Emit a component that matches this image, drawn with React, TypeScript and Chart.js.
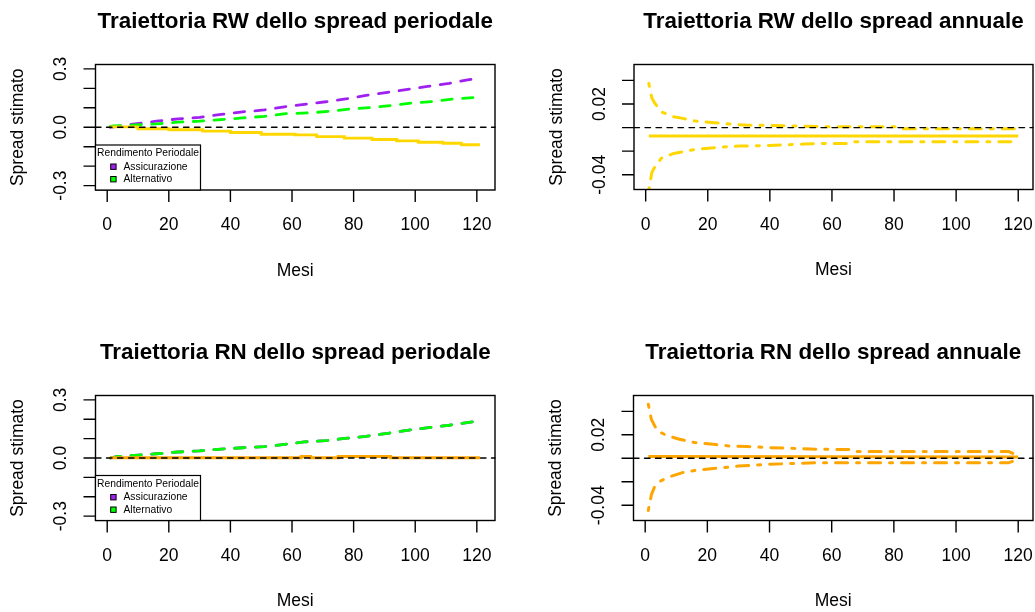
import { useEffect, useRef } from "react";
import { Chart, registerables } from "chart.js";

Chart.register(...registerables);

const FONT = '"Liberation Sans", Arial, Helvetica, sans-serif';
const W = 1035;
const H = 612;

// Colours (R palette names)
const PURPLE = "#A020F0";
const GREEN = "#00FF00";
const GOLD = "#FFD700";
const ORANGE = "#FFA500";

// Axis ticks
const xTicks = [0, 20, 40, 60, 80, 100, 120];
const yTicksPeriodale = [-0.3, -0.2, -0.1, 0, 0.1, 0.2, 0.3];
const yLabelsPeriodale: Record<string, string> = { "-0.3": "-0.3", "0": "0.0", "0.3": "0.3" };
const yTicksAnnuale = [-0.04, -0.02, 0, 0.02, 0.04];
const yLabelsAnnuale: Record<string, string> = { "-0.04": "-0.04", "0.02": "0.02" };

// --- RW, spread periodale
const rwAssicMesi = [1, 9, 16, 23, 30, 37, 44, 51, 57, 64, 71, 78, 84, 91, 97, 104, 111, 117, 120];
const rwAssicVal = [0.0, 0.017, 0.031, 0.043, 0.051, 0.066, 0.079, 0.089, 0.104, 0.118, 0.131, 0.147, 0.164, 0.179, 0.193, 0.21, 0.225, 0.244, 0.25];
const rwAltMesi = [1, 2, 9, 16, 23, 30, 37, 44, 51, 58, 66, 72, 79, 86, 92, 99, 106, 112, 119, 120];
const rwAltVal = [0.003, 0.007, 0.012, 0.017, 0.026, 0.031, 0.039, 0.048, 0.056, 0.07, 0.074, 0.082, 0.094, 0.102, 0.111, 0.125, 0.133, 0.145, 0.153, 0.155];
const rwSpreadMesi = [1, 10, 20, 31, 40, 50, 61, 68, 77, 86, 94, 101, 109, 115, 121];
const rwSpreadVal = [0.002, -0.008, -0.013, -0.02, -0.027, -0.036, -0.039, -0.048, -0.056, -0.063, -0.07, -0.077, -0.082, -0.09, -0.09];

// --- RN, spread periodale
const rnAssicMesi = [1, 3, 10, 16, 23, 30, 37, 44, 51, 57, 64, 71, 78, 84, 91, 98, 105, 111, 118, 120];
const rnAssicVal = [0.0, 0.007, 0.015, 0.022, 0.031, 0.037, 0.046, 0.053, 0.059, 0.069, 0.083, 0.09, 0.102, 0.112, 0.127, 0.144, 0.158, 0.169, 0.185, 0.19];
const rnAltMesi = [1, 3, 10, 16, 23, 30, 37, 44, 51, 57, 64, 71, 78, 84, 91, 98, 105, 111, 118, 120];
const rnAltVal = [0.0, 0.007, 0.015, 0.022, 0.031, 0.037, 0.046, 0.053, 0.059, 0.069, 0.083, 0.09, 0.102, 0.112, 0.127, 0.144, 0.158, 0.169, 0.185, 0.19];
const rnSpreadMesi = [1, 63, 66, 75, 92, 121];
const rnSpreadVal = [0.001, 0.008, 0.001, 0.008, 0.001, 0.001];

// --- RW, spread annuale (stima e bande)
const rwAnnMesi = [1, 120];
const rwAnnVal = [-0.0072, -0.0072];
const rwAnnSupMesi = [1, 2, 3, 5, 9, 12, 16, 22, 27, 32, 40, 49, 58, 70, 81, 82, 100, 120];
const rwAnnSupVal = [0.0375, 0.025, 0.0205, 0.0134, 0.0092, 0.0078, 0.0055, 0.0041, 0.003, 0.0021, 0.0019, 0.0013, 0.0007, 0.0007, 0.0007, -0.001, -0.001, -0.001];
const rwAnnInfMesi = [1, 2, 3, 5, 9, 16, 23, 30, 40, 51, 58, 65, 66, 120];
const rwAnnInfVal = [-0.0535, -0.038, -0.0332, -0.0261, -0.0219, -0.0185, -0.0168, -0.0157, -0.0151, -0.014, -0.0134, -0.0134, -0.012, -0.012];

// --- RN, spread annuale (stima e bande)
const rnAnnMesi = [1, 120];
const rnAnnVal = [0.0015, 0.0012];
const rnAnnSupMesi = [1, 2, 3, 4, 7, 11, 16, 22, 27, 33, 40, 49, 55, 67, 68, 117, 120];
const rnAnnSupVal = [0.046, 0.033, 0.028, 0.0232, 0.0194, 0.0162, 0.0134, 0.0119, 0.0105, 0.01, 0.0091, 0.0083, 0.0077, 0.0075, 0.0057, 0.0057, 0.002];
const rnAnnInfMesi = [1, 2, 3, 5, 8, 12, 17, 23, 30, 40, 49, 57, 117, 120];
const rnAnnInfVal = [-0.0445, -0.031, -0.0245, -0.0193, -0.0156, -0.0122, -0.01, -0.0085, -0.0066, -0.0051, -0.0043, -0.0037, -0.0037, -0.001];

const pts = (xs: number[], ys: number[]) => xs.map((x, i) => ({ x, y: ys[i] }));

type Box = { l: number; t: number; r: number; b: number };

const TICK = 12;
const AXIS_PX = 17.5;

const rFrame = {
  id: "rFrame",
  afterDatasetsDraw(chart: any, _args: any, opts: any) {
    const { ctx, chartArea: a } = chart;
    const xs = chart.scales.x;
    const ys = chart.scales.y;
    ctx.save();

    // abline(h = 0, lty = 2)
    const y0 = ys.getPixelForValue(0);
    ctx.beginPath();
    ctx.setLineDash([5.5, 5.5]);
    ctx.lineCap = "round";
    ctx.lineWidth = 1.4;
    ctx.strokeStyle = "#000";
    ctx.moveTo(a.left, y0);
    ctx.lineTo(a.right, y0);
    ctx.stroke();
    ctx.setLineDash([]);
    ctx.lineCap = "butt";

    // plot box
    ctx.lineWidth = 1.4;
    ctx.strokeRect(a.left, a.top, a.right - a.left, a.bottom - a.top);

    // x axis ticks and labels
    ctx.beginPath();
    opts.xTicks.forEach((v: number) => {
      const px = xs.getPixelForValue(v);
      ctx.moveTo(px, a.bottom);
      ctx.lineTo(px, a.bottom + TICK);
    });
    ctx.stroke();
    ctx.fillStyle = "#000";
    ctx.font = `${AXIS_PX}px ${FONT}`;
    ctx.textAlign = "center";
    ctx.textBaseline = "middle";
    opts.xTicks.forEach((v: number) => {
      ctx.fillText(String(v), xs.getPixelForValue(v), a.bottom + 35.5);
    });
    ctx.fillText("Mesi", (a.left + a.right) / 2, a.bottom + 81);

    // y axis ticks and labels (parallel to the axis)
    ctx.beginPath();
    opts.yTicks.forEach((v: number) => {
      const py = ys.getPixelForValue(v);
      ctx.moveTo(a.left, py);
      ctx.lineTo(a.left - TICK, py);
    });
    ctx.stroke();
    opts.yTicks.forEach((v: number) => {
      const lab = opts.yLabels[String(v)];
      if (!lab) return;
      ctx.save();
      ctx.translate(a.left - 34, ys.getPixelForValue(v));
      ctx.rotate(-Math.PI / 2);
      ctx.fillText(lab, 0, 0);
      ctx.restore();
    });
    ctx.save();
    ctx.translate(a.left - 77, (a.top + a.bottom) / 2);
    ctx.rotate(-Math.PI / 2);
    ctx.fillText("Spread stimato", 0, 0);
    ctx.restore();

    // main title
    ctx.font = `bold 22.4px ${FONT}`;
    ctx.fillText(opts.title, (a.left + a.right) / 2, a.top - 42.5);

    // legend, bottom-left inside the plot box
    if (opts.legend) {
      const lw = 105;
      const lh = 45;
      const lx = a.left;
      const ly = a.bottom - lh;
      ctx.fillStyle = "#fff";
      ctx.fillRect(lx, ly, lw, lh);
      ctx.lineWidth = 1.2;
      ctx.strokeStyle = "#000";
      ctx.strokeRect(lx, ly, lw, lh);
      ctx.fillStyle = "#000";
      ctx.font = `10.3px ${FONT}`;
      ctx.textAlign = "center";
      ctx.fillText(opts.legend, lx + lw / 2, ly + 8.5);
      ctx.textAlign = "left";
      opts.legendItems.forEach((idx: number, k: number) => {
        const ds = chart.data.datasets[idx];
        const cy = ly + 21.7 + k * 12.5;
        ctx.fillStyle = ds.borderColor;
        ctx.fillRect(lx + 15.2, cy - 2.7, 5.4, 5.4);
        ctx.lineWidth = 1;
        ctx.strokeStyle = "#000";
        ctx.strokeRect(lx + 15.2, cy - 2.7, 5.4, 5.4);
        ctx.fillStyle = "#000";
        ctx.fillText(ds.label, lx + 28, cy);
      });
    }
    ctx.restore();
  },
};

type PanelSpec = {
  box: Box;
  xRange: [number, number];
  yRange: [number, number];
  title: string;
  yTicks: number[];
  yLabels: Record<string, string>;
  legend?: string;
  legendItems?: number[];
  datasets: any[];
};

const dashedLine = (label: string, color: string, xs: number[], ys: number[]) => ({
  label,
  data: pts(xs, ys),
  borderColor: color,
  borderWidth: 2.8,
  borderDash: [10.4, 10.4],
  borderCapStyle: "round",
  borderJoinStyle: "round",
  pointRadius: 0,
  fill: false,
  clip: 0,
});

const solidStep = (label: string, color: string, xs: number[], ys: number[]) => ({
  label,
  data: pts(xs, ys),
  borderColor: color,
  borderWidth: 2.9,
  stepped: "before",
  borderCapStyle: "butt",
  pointRadius: 0,
  fill: false,
  clip: 0,
});

const solidLine = (label: string, color: string, xs: number[], ys: number[]) => ({
  label,
  data: pts(xs, ys),
  borderColor: color,
  borderWidth: 3,
  borderCapStyle: "butt",
  pointRadius: 0,
  fill: false,
  clip: 0,
});

const dotDash = (label: string, color: string, xs: number[], ys: number[]) => ({
  label,
  data: pts(xs, ys),
  borderColor: color,
  borderWidth: 3,
  borderDash: [3, 9, 12, 9],
  borderCapStyle: "round",
  borderJoinStyle: "round",
  pointRadius: 0,
  fill: false,
  clip: 0,
});

// series are painted in list order: later ones end up on top
const layered = (list: any[]) => list.map((d, i) => ({ ...d, order: list.length - i }));

const panels: PanelSpec[] = [
  {
    box: { l: 95.5, t: 64.5, r: 495, b: 190 },
    xRange: [-3.8, 125.9],
    yRange: [-0.3225, 0.3225],
    title: "Traiettoria RW dello spread periodale",
    yTicks: yTicksPeriodale,
    yLabels: yLabelsPeriodale,
    legend: "Rendimento Periodale",
    legendItems: [0, 1],
    datasets: layered([
      dashedLine("Assicurazione", PURPLE, rwAssicMesi, rwAssicVal),
      dashedLine("Alternativo", GREEN, rwAltMesi, rwAltVal),
      solidStep("Spread", GOLD, rwSpreadMesi, rwSpreadVal),
    ]),
  },
  {
    box: { l: 634, t: 64.5, r: 1033, b: 189.5 },
    xRange: [-3.76, 124.76],
    yRange: [-0.0525, 0.0535],
    title: "Traiettoria RW dello spread annuale",
    yTicks: yTicksAnnuale,
    yLabels: yLabelsAnnuale,
    datasets: layered([
      solidLine("Spread", GOLD, rwAnnMesi, rwAnnVal),
      dotDash("Limite superiore", GOLD, rwAnnSupMesi, rwAnnSupVal),
      dotDash("Limite inferiore", GOLD, rwAnnInfMesi, rwAnnInfVal),
    ]),
  },
  {
    box: { l: 95.5, t: 395.5, r: 495, b: 520.5 },
    xRange: [-3.8, 125.9],
    yRange: [-0.3225, 0.3225],
    title: "Traiettoria RN dello spread periodale",
    yTicks: yTicksPeriodale,
    yLabels: yLabelsPeriodale,
    legend: "Rendimento Periodale",
    legendItems: [0, 1],
    datasets: layered([
      dashedLine("Assicurazione", PURPLE, rnAssicMesi, rnAssicVal),
      dashedLine("Alternativo", GREEN, rnAltMesi, rnAltVal),
      solidStep("Spread", ORANGE, rnSpreadMesi, rnSpreadVal),
    ]),
  },
  {
    box: { l: 633.5, t: 395.5, r: 1033, b: 520.5 },
    xRange: [-3.76, 124.76],
    yRange: [-0.053, 0.0535],
    title: "Traiettoria RN dello spread annuale",
    yTicks: yTicksAnnuale,
    yLabels: yLabelsAnnuale,
    datasets: layered([
      solidLine("Spread", ORANGE, rnAnnMesi, rnAnnVal),
      dotDash("Limite superiore", ORANGE, rnAnnSupMesi, rnAnnSupVal),
      dotDash("Limite inferiore", ORANGE, rnAnnInfMesi, rnAnnInfVal),
    ]),
  },
];

function Panel({ spec }: { spec: PanelSpec }) {
  const ref = useRef<HTMLCanvasElement | null>(null);
  useEffect(() => {
    if (!ref.current) return;
    const { box } = spec;
    const chart = new Chart(ref.current, {
      type: "line",
      data: { datasets: spec.datasets },
      plugins: [rFrame as any],
      options: {
        responsive: false,
        animation: false,
        devicePixelRatio: 1,
        layout: { padding: { left: box.l, top: box.t, right: W - box.r, bottom: H - box.b } },
        scales: {
          x: { type: "linear", min: spec.xRange[0], max: spec.xRange[1], display: false },
          y: { type: "linear", min: spec.yRange[0], max: spec.yRange[1], display: false },
        },
        plugins: {
          legend: { display: false },
          tooltip: { enabled: false },
          rFrame: {
            xTicks,
            yTicks: spec.yTicks,
            yLabels: spec.yLabels,
            title: spec.title,
            legend: spec.legend,
            legendItems: spec.legendItems || [],
          },
        } as any,
      },
    });
    return () => chart.destroy();
  }, [spec]);
  return (
    <canvas
      ref={ref}
      width={W}
      height={H}
      style={{ position: "absolute", left: 0, top: 0, width: W, height: H, pointerEvents: "none" }}
    />
  );
}

export default function App() {
  return (
    <div style={{ position: "absolute", left: 0, top: 0, width: W, height: H, background: "#fff", overflow: "hidden" }}>
      {panels.map((p, i) => (
        <Panel key={i} spec={p} />
      ))}
    </div>
  );
}
